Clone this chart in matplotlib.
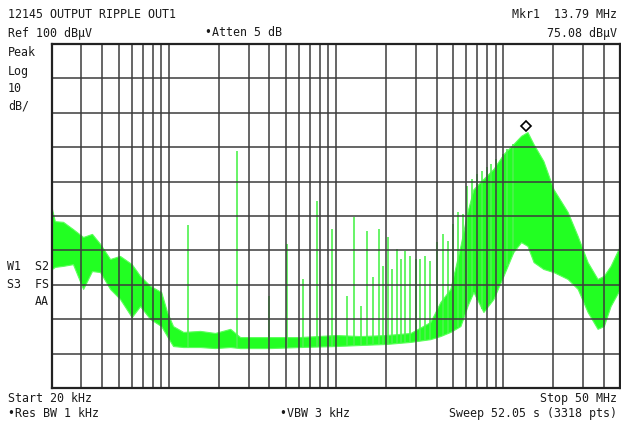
import matplotlib
matplotlib.use("Agg")
import matplotlib.pyplot as plt
import numpy as np
from matplotlib.ticker import NullLocator
from matplotlib.transforms import offset_copy

# ---- data (frequency in Hz, level in dBuV) ----
env_freq = [20.0e3, 20.8e3, 23.3e3, 26.7e3, 30.7e3, 34.7e3, 38.8e3, 44.5e3, 51e3,
            60e3, 67.3e3, 77.2e3, 90e3, 97.6e3, 106e3, 122e3, 154e3, 189e3, 233e3,
            267e3, 404e3, 600e3, 1.0e6, 1.40e6, 2.0e6, 2.79e6, 3.67e6, 4.21e6,
            4.83e6, 5.55e6, 6.11e6, 6.64e6, 7.62e6, 8.75e6, 10.04e6, 11.5e6,
            12.8e6, 13.98e6, 15.2e6, 17.4e6, 20e6, 24.3e6, 27.9e6, 32e6, 36.7e6,
            40e6, 43.9e6, 50e6]
env_upper = [52.0, 48.5, 48.3, 46.2, 43.9, 44.8, 41.9, 37.5, 38.4,
             36.0, 32.6, 29.7, 27.9, 22.1, 18.0, 16.3, 16.6, 16.0, 17.2,
             14.8, 14.8, 14.8, 15.4, 15.1, 15.4, 16.0, 19.2, 25.0,
             28.8, 41.3, 51.2, 57.8, 60.8, 63.7, 68.0, 70.9,
             73.3, 74.4, 70.9, 66.0, 57.8, 51.2, 44.2, 36.6, 31.7,
             32.6, 35.5, 41.3]
env_lower = [34.6, 35.2, 35.5, 36.0, 28.8, 34.0, 33.7, 28.8, 25.9,
             20.6, 23.8, 20.1, 18.0, 15.1, 12.2, 11.9, 11.9, 11.6, 11.9,
             11.6, 11.6, 11.9, 12.2, 12.5, 12.8, 13.4, 14.2, 15.1,
             16.3, 18.0, 23.8, 27.9, 22.1, 25.9, 32.6, 39.5,
             42.4, 41.3, 36.6, 34.6, 33.7, 31.7, 28.8, 22.1, 17.2,
             18.0, 23.8, 28.8]

spike_freq = [130e3, 256e3, 400e3, 511e3, 637e3, 772e3, 950e3, 1.17e6, 1.29e6,
              1.42e6, 1.54e6, 1.67e6, 1.82e6, 1.92e6, 2.06e6, 2.17e6, 2.33e6,
              2.46e6, 2.60e6, 2.79e6, 2.99e6, 3.2e6, 3.43e6, 3.67e6, 4.04e6,
              4.39e6, 4.70e6, 5.04e6, 5.40e6, 5.78e6, 6.11e6, 6.5e6, 7.0e6,
              7.45e6, 8.0e6, 8.5e6, 9.1e6, 10.0e6, 10.6e6, 11.4e6]
spike_top = [47.4, 68.9, 26.7, 41.9, 31.7, 54.4, 46.2, 26.7, 49.7,
             23.8, 45.6, 32.3, 46.2, 35.5, 43.9, 34.6, 40.4,
             37.5, 39.8, 38.4, 37.5, 37.5, 38.4, 36.9, 42.4,
             44.8, 42.7, 47.7, 51.2, 50.6, 58.7, 60.8, 62.2,
             63.1, 64.2, 65.1, 66.6, 68.0, 69.5, 70.9]

mkr_freq = 13.79e6
mkr_level = 75.08

f_start, f_stop = 20e3, 50e6
ref_level, db_per_div = 100, 10

# ---- figure ----
W, H = 621, 427
fig = plt.figure(figsize=(W / 100, H / 100), dpi=100)
fig.patch.set_facecolor("white")
ax = fig.add_axes([52 / W, 38 / H, 568 / W, 344 / H])
ax.set_xscale("log")
ax.set_xlim(f_start, f_stop)
ax.set_ylim(ref_level - 10 * db_per_div, ref_level)
ax.xaxis.set_minor_locator(NullLocator())
ax.set_xticks([])
ax.set_yticks([])
ax.tick_params(which="both", length=0)

# trace
ax.fill_between(env_freq, env_lower, env_upper, color="#22ff22", lw=0.8,
                edgecolor="#5cff5c", zorder=1)
base = np.interp(np.log10(spike_freq), np.log10(env_freq), env_lower)
ax.vlines(spike_freq, base, spike_top, color="#4ef24e", lw=1.2, zorder=2)

# grid
grid_c = "#3c3c3c"
for dec in [1e4, 1e5, 1e6, 1e7]:
    for m in range(1, 10):
        f = m * dec
        if f_start < f < f_stop:
            ax.axvline(f, color=grid_c, lw=1.1, zorder=3)
for lv in range(10, 100, 10):
    ax.axhline(lv, color=grid_c, lw=1.1, zorder=3)
for s in ax.spines.values():
    s.set_linewidth(1.6)
    s.set_color("#222222")
    s.set_zorder(4)

# marker
tr = offset_copy(ax.transData, fig=fig, x=0, y=4, units="dots")
ax.plot([mkr_freq], [mkr_level], marker="D", ms=5, mfc="white", mec="black",
        mew=1.2, transform=tr, zorder=5, clip_on=False)

# ---- annotations ----
fkw = dict(family="DejaVu Sans Mono", fontsize=8.4, color="#1a1a1a")


def txt(x, y, s, ha="left"):
    fig.text(x / W, 1 - y / H, s, ha=ha, va="center", **fkw)


txt(8, 15, "12145 OUTPUT RIPPLE OUT1")
txt(8, 33, "Ref 100 dBµV")
txt(205, 33, "•Atten 5 dB")
txt(617, 15, "Mkr1  13.79 MHz", ha="right")
txt(617, 33, "75.08 dBµV", ha="right")
txt(8, 53, "Peak")
txt(8, 71, "Log")
txt(8, 89, "10")
txt(8, 106, "dB/")
txt(49, 267, "W1  S2", ha="right")
txt(49, 285, "S3  FS", ha="right")
txt(49, 302, "AA", ha="right")
txt(8, 399, "Start 20 kHz")
txt(617, 399, "Stop 50 MHz", ha="right")
txt(8, 414, "•Res BW 1 kHz")
txt(280, 414, "•VBW 3 kHz")
txt(617, 414, "Sweep 52.05 s (3318 pts)", ha="right")

fig.savefig("out.png", dpi=100, facecolor="white")
